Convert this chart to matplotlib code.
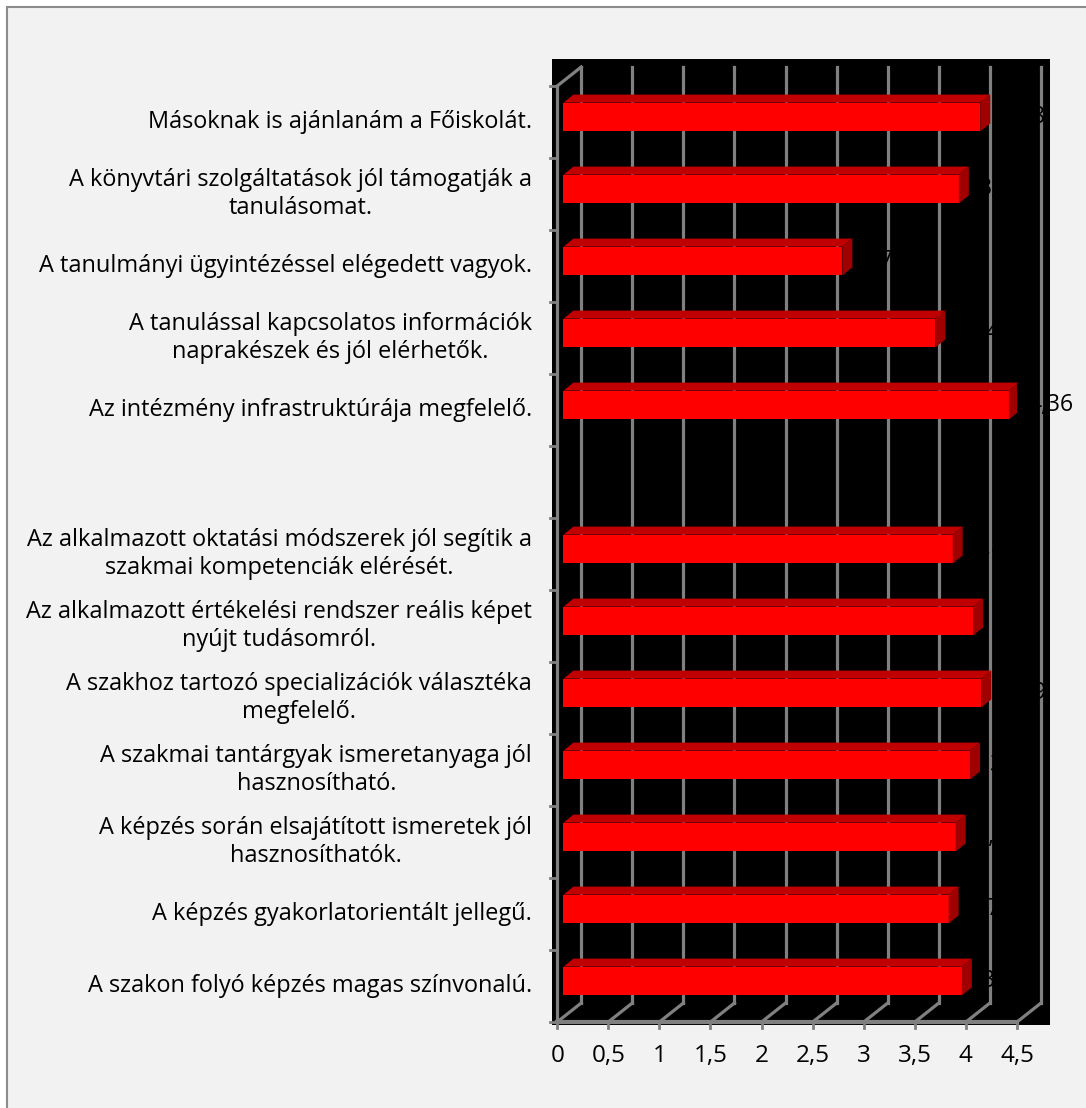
import numpy as np
import matplotlib.pyplot as plt
from matplotlib.patches import Polygon, Rectangle

plt.rcParams['font.family'] = ['Open Sans', 'DejaVu Sans']

# kategóriák fentről lefelé ('' = üres sor a két blokk között)
categories = [
    "Másoknak is ajánlanám a Főiskolát.",
    "A könyvtári szolgáltatások jól támogatják a\ntanulásomat.",
    "A tanulmányi ügyintézéssel elégedett vagyok.",
    "A tanulással kapcsolatos információk\nnaprakészek és jól elérhetők.",
    "Az intézmény infrastruktúrája megfelelő.",
    "",
    "Az alkalmazott oktatási módszerek jól segítik a\nszakmai kompetenciák elérését.",
    "Az alkalmazott értékelési rendszer reális képet\nnyújt tudásomról.",
    "A szakhoz tartozó specializációk választéka\nmegfelelő.",
    "A szakmai tantárgyak ismeretanyaga jól\nhasznosítható.",
    "A képzés során elsajátított ismeretek jól\nhasznosíthatók.",
    "A képzés gyakorlatorientált jellegű.",
    "A szakon folyó képzés magas színvonalú.",
]
values = [4.08, 3.87, 2.73, 3.64, 4.36, np.nan, 3.81, 4.01, 4.09, 3.98, 3.84, 3.77, 3.90]
xticks = [0, 0.5, 1, 1.5, 2, 2.5, 3, 3.5, 4, 4.5]
xtick_labels = ["0", "0,5", "1", "1,5", "2", "2,5", "3", "3,5", "4", "4,5"]

W, H = 1086, 1108
fig = plt.figure(figsize=(W / 100, H / 100), dpi=100, facecolor='white')
# szürke háttér kerettel
fig.patches.append(Rectangle((7 / W, -0.1), 1.2, (H - 7) / H + 0.1, transform=fig.transFigure,
                             facecolor='#f2f2f2', edgecolor='#8c8c8c', lw=1.5, zorder=-1))

# elülső sík (0..4,5 ill. 13 kategória-sáv)
ax = fig.add_axes([557.2 / W, (H - 1022) / H, 459.8 / W, 936 / H])
ax.set_xlim(0, 4.5)
ax.set_ylim(len(categories) - 0.5, -0.5)
ax.axis('off')

# pixel -> adat egység
p0 = ax.transData.transform((0, 0))
ppx = ax.transData.transform((1, 0))[0] - p0[0]
ppy = p0[1] - ax.transData.transform((0, 1))[1]
def dx(p): return p / ppx
def dy(p): return -p / ppy   # felfelé = kisebb index

depth_x, depth_y = dx(24), dy(19)
ytop, ybot = -0.5, len(categories) - 0.5
grid = '#808080'

# fekete háttér
ax.add_patch(Rectangle((-5.2 / 459.8, -3 / 936), 498 / 459.8, 966 / 936, transform=ax.transAxes,
                       facecolor='black', edgecolor='none', zorder=0, clip_on=False))

# hátsó fal rácsvonalai + padló átlók
for x in xticks:
    ax.plot([x + depth_x] * 2, [ybot + depth_y, ytop + depth_y], color=grid, lw=2.3, zorder=1, clip_on=False)
    ax.plot([x, x + depth_x], [ybot, ybot + depth_y], color=grid, lw=2.3, zorder=1, clip_on=False)
    ax.plot([x, x], [ybot, ybot + dy(-6)], color=grid, lw=2, zorder=1, clip_on=False)
ax.plot([0, 4.5], [ybot, ybot], color=grid, lw=3, zorder=1, clip_on=False)
ax.plot([0, 0], [ybot, ytop], color=grid, lw=2.3, zorder=1, clip_on=False)
ax.plot([0, depth_x], [ytop, ytop + depth_y], color=grid, lw=2.3, zorder=1, clip_on=False)
for k in range(len(categories) + 1):
    ax.plot([dx(-7), 0], [k - 0.5, k - 0.5], color=grid, lw=2, zorder=1, clip_on=False)

# 3D oszlopok
f1x, f1y = dx(6.2), dy(5)
f2x, f2y = dx(16.2), dy(13)
h = 0.4
ypos = np.arange(len(categories))
ax.barh(ypos + f1y, values, left=f1x, height=h, color='#ff0000', zorder=3)
for i, v in enumerate(values):
    if np.isnan(v):
        continue
    t = i + f1y - h / 2
    ax.add_patch(Polygon([(f1x, t), (v + f1x, t), (v + f2x, t + f2y - f1y), (f2x, t + f2y - f1y)],
                         closed=True, facecolor='#c00000', edgecolor='none', zorder=3))
    ax.add_patch(Polygon([(v + f1x, t), (v + f2x, t + f2y - f1y), (v + f2x, t + h + f2y - f1y), (v + f1x, t + h)],
                         closed=True, facecolor='#a00000', edgecolor='none', zorder=3))
    # értékcímke (fekete, a fekete háttéren szinte láthatatlan)
    ax.annotate(f"{v:.2f}".replace('.', ','), xy=(v + f1x, i + f1y), xytext=(20 * 0.72, 0),
                textcoords='offset points', ha='left', va='center', fontsize=16.5, color='black',
                zorder=4, annotation_clip=False)

# tengelyfeliratok
for x, lbl in zip(xticks, xtick_labels):
    ax.annotate(lbl, xy=(x, ybot), xytext=(0, -34 * 0.72), textcoords='offset points',
                ha='center', va='center', fontsize=17.5, color='black', annotation_clip=False)
for i, cat in enumerate(categories):
    ax.annotate(cat, xy=(0, i), xytext=(-25 * 0.72, 0), textcoords='offset points',
                ha='right', va='center', multialignment='center', fontsize=16.9,
                linespacing=1.2, color='black', annotation_clip=False)

fig.savefig('out.png', dpi=100, facecolor=fig.get_facecolor())
